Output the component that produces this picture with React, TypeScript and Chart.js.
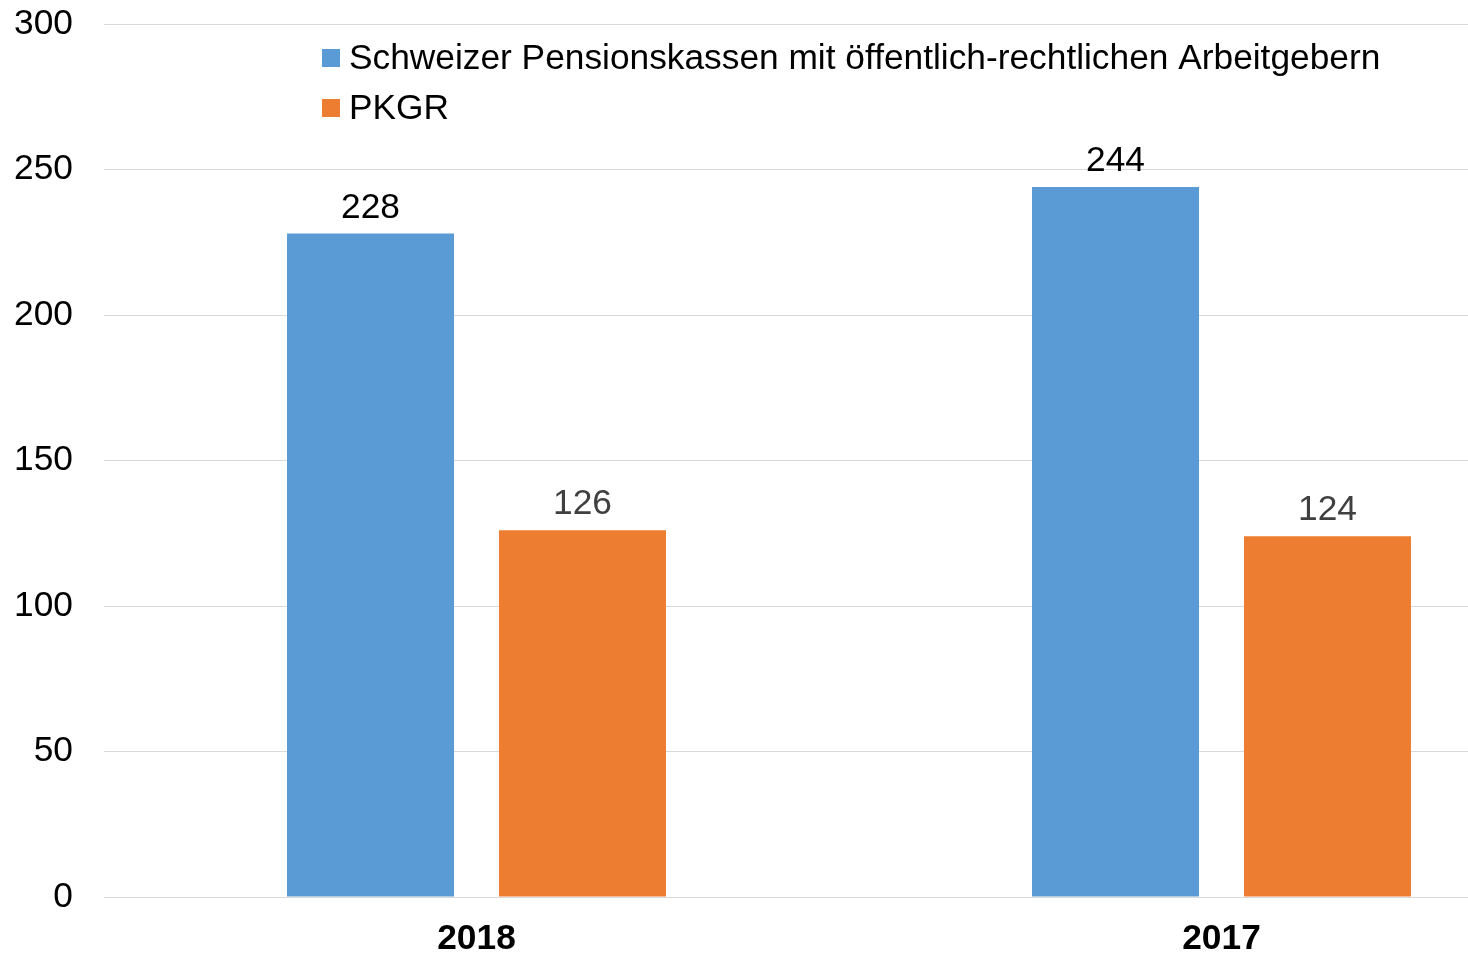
import React, { useEffect, useRef } from "react";
import { Chart, registerables } from "chart.js";

Chart.register(...registerables);

const categories = ["2018", "2017"];
const seriesNames = ["Schweizer Pensionskassen mit öffentlich-rechtlichen Arbeitgebern", "PKGR"];
const publicEmployers = [228, 244];
const pkgr = [126, 124];
const yTicks = [0, 50, 100, 150, 200, 250, 300];

const BLUE = "#5B9BD5";
const ORANGE = "#ED7D31";
const FONT = "'Liberation Sans', Arial, sans-serif";
const FS = 35.3;

const valueLabels = {
  id: "valueLabels",
  afterDatasetsDraw(chart: any) {
    const ctx = chart.ctx;
    const colors = ["#000000", "#404040"];
    ctx.save();
    ctx.font = `${FS}px ${FONT}`;
    ctx.textAlign = "center";
    ctx.textBaseline = "alphabetic";
    chart.data.datasets.forEach((ds: any, i: number) => {
      const meta = chart.getDatasetMeta(i);
      ctx.fillStyle = colors[i];
      meta.data.forEach((bar: any, j: number) => {
        ctx.fillText(String(ds.data[j]), bar.x, bar.y - 16);
      });
    });
    ctx.restore();
  },
};

const insideLegend = {
  id: "insideLegend",
  afterDraw(chart: any) {
    const ctx = chart.ctx;
    ctx.save();
    ctx.font = `${FS}px ${FONT}`;
    ctx.textAlign = "left";
    ctx.textBaseline = "alphabetic";
    chart.data.datasets.forEach((ds: any, i: number) => {
      const top = 49 + i * 50;
      ctx.fillStyle = ds.backgroundColor;
      ctx.fillRect(322, top, 18, 18);
      ctx.fillStyle = "#000000";
      ctx.fillText(ds.label, 349, top + 20);
    });
    ctx.restore();
  },
};

export default function App() {
  const ref = useRef<HTMLCanvasElement>(null);
  useEffect(() => {
    if (!ref.current) return;
    const chart = new Chart(ref.current, {
      type: "bar",
      data: {
        labels: categories,
        datasets: [
          { label: seriesNames[0], data: publicEmployers, backgroundColor: BLUE, categoryPercentage: 0.569, barPercentage: 0.788 },
          { label: seriesNames[1], data: pkgr, backgroundColor: ORANGE, categoryPercentage: 0.569, barPercentage: 0.788 },
        ],
      },
      options: {
        responsive: false,
        animation: false,
        devicePixelRatio: 1,
        layout: { padding: { top: 24, right: 6, left: 0, bottom: 0 } },
        plugins: { legend: { display: false }, tooltip: { enabled: false } },
        scales: {
          x: {
            grid: { display: false, drawTicks: false },
            border: { display: true, color: "#d9d9d9", width: 1 },
            ticks: { color: "#000000", font: { family: FONT, size: FS, weight: "bold" }, padding: 21, maxRotation: 0 },
            afterFit: (s: any) => { s.height = 59; },
          },
          y: {
            min: 0,
            max: 300,
            afterBuildTicks: (s: any) => { s.ticks = yTicks.map((v) => ({ value: v })); },
            grid: { color: "#d9d9d9", drawTicks: false, lineWidth: 1 },
            border: { display: false },
            ticks: { color: "#000000", font: { family: FONT, size: FS }, padding: 31 },
            afterFit: (s: any) => { s.width = 104; s.paddingTop = 0; s.paddingBottom = 0; },
          },
        },
      },
      plugins: [valueLabels, insideLegend],
    });
    return () => chart.destroy();
  }, []);
  return (
    <div style={{ position: "fixed", left: 0, top: 0, width: 1468, height: 956, overflow: "hidden", background: "#fff" }}>
      <canvas ref={ref} width={1600} height={956} style={{ display: "block" }} />
    </div>
  );
}
